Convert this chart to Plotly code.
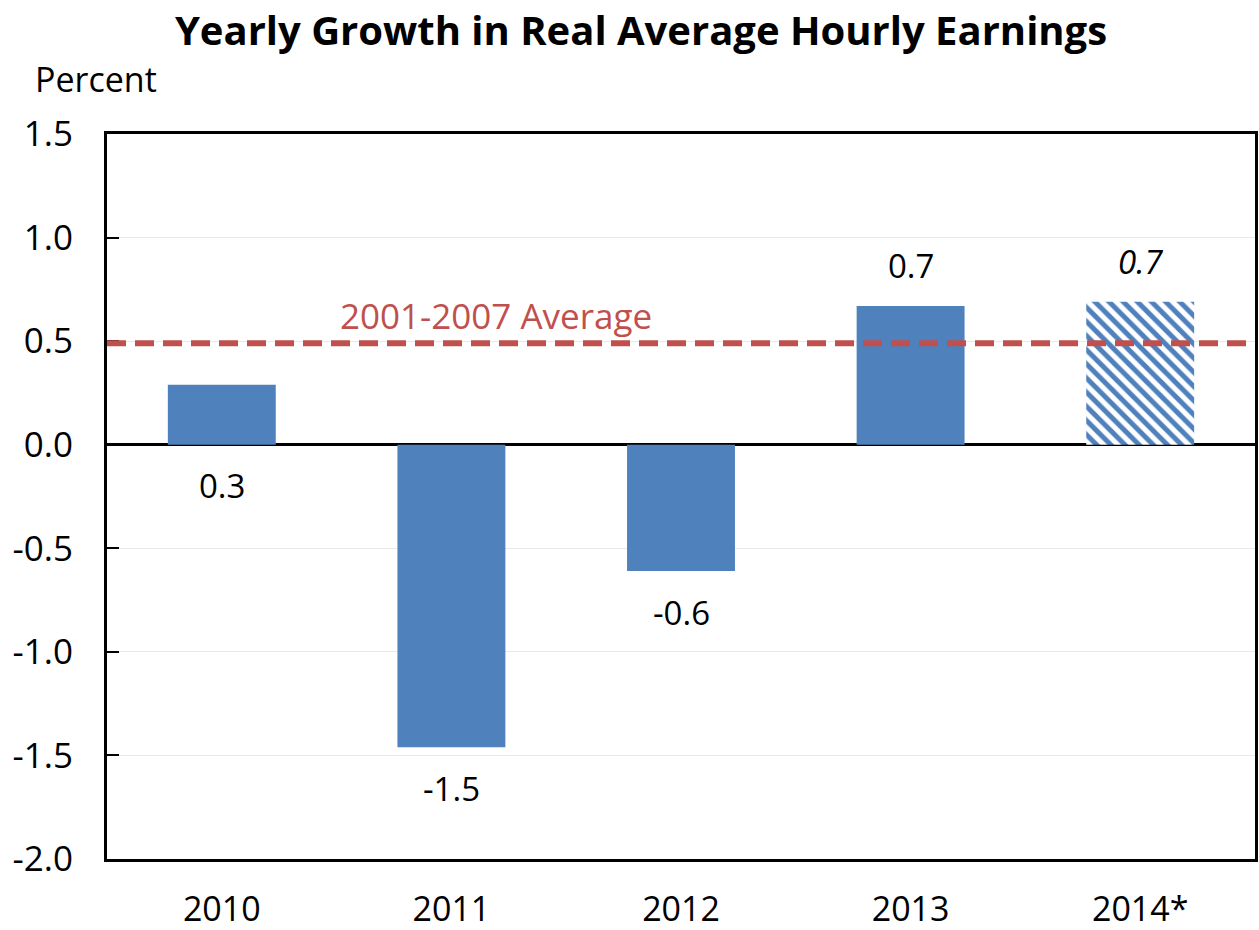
import plotly.graph_objects as go

# ---- data ----
categories = ["2010", "2011", "2012", "2013", "2014*"]
values = [0.29, -1.46, -0.61, 0.67, 0.69]
value_labels = ["0.3", "-1.5", "-0.6", "0.7", "<i>0.7</i>"]
average_2001_2007 = 0.49
average_label = "2001-2007 Average"
y_ticks = [-2.0, -1.5, -1.0, -0.5, 0.0, 0.5, 1.0, 1.5]
y_tick_labels = ["-2.0", "-1.5", "-1.0", "-0.5", "0.0", "0.5", "1.0", "1.5"]

# ---- style ----
BLUE = "#4F81BD"
RED = "#C0504D"
FONT = "Open Sans"
label_anchor = ["base", "end", "end", "end", "end"]  # where each value label sits
pattern_shapes = ["", "", "", "", "\\"]

fig = go.Figure()
fig.add_trace(go.Bar(
    x=categories,
    y=values,
    width=0.47,
    marker=dict(
        color=BLUE,
        line=dict(width=0),
        pattern=dict(shape=pattern_shapes, fgcolor=BLUE, bgcolor="white",
                     size=10, solidity=0.5, fillmode="replace"),
    ),
    showlegend=False,
    hoverinfo="x+y",
))

# average dashed line
fig.add_shape(type="line", xref="paper", x0=0, x1=1, yref="y",
              y0=average_2001_2007, y1=average_2001_2007,
              line=dict(color=RED, width=6, dash="19px,9px"), layer="above")
fig.add_annotation(xref="paper", x=0.339, yref="y", y=average_2001_2007,
                   yanchor="bottom", yshift=2, text=average_label, showarrow=False,
                   font=dict(family=FONT, size=35, color=RED))

# value labels (x given as category index)
for i, (v, lab, anc) in enumerate(zip(values, value_labels, label_anchor)):
    ypos = 0 if anc == "base" else v
    down = (anc == "base") or v < 0
    fig.add_annotation(x=i, y=ypos, text=lab, showarrow=False,
                       yanchor="middle", yshift=-41 if down else 40,
                       font=dict(family=FONT, size=33, color="black"))

# y-axis title "Percent"
fig.add_annotation(xref="paper", x=-107/1148 + 33/1148, xanchor="left",
                   yref="paper", y=1, yanchor="bottom", yshift=30,
                   text="Percent", showarrow=False,
                   font=dict(family=FONT, size=34, color="black"))

fig.update_layout(
    width=1259, height=930,
    margin=dict(l=107, r=4, t=134, b=71),
    paper_bgcolor="white", plot_bgcolor="white",
    font=dict(family=FONT, color="black"),
    title=dict(text="<b>Yearly Growth in Real Average Hourly Earnings</b>",
               x=641/1259, xanchor="center", xref="container",
               y=1-31/930, yanchor="middle", yref="container",
               font=dict(family=FONT, size=40, color="black")),
    bargap=0.53,
)
fig.update_xaxes(
    type="category", range=[-0.5, len(categories) - 0.5], automargin=False,
    showline=True, linecolor="black", linewidth=3, mirror=True,
    ticks="", showgrid=False,
    tickfont=dict(family=FONT, size=34),
    ticklabelstandoff=18,
)
fig.update_yaxes(
    range=[-2.0, 1.5], tickvals=y_ticks, ticktext=y_tick_labels, automargin=False,
    showline=True, linecolor="black", linewidth=3, mirror=True,
    ticks="inside", ticklen=12, tickwidth=2, tickcolor="black",
    showgrid=True, gridcolor="#E8E8E8", gridwidth=1,
    zeroline=True, zerolinecolor="black", zerolinewidth=2.5,
    tickfont=dict(family=FONT, size=35),
    ticklabelstandoff=24,
)

fig.write_html("out.html", config={"displayModeBar": False},
               post_script="document.body.style.margin='0';")
